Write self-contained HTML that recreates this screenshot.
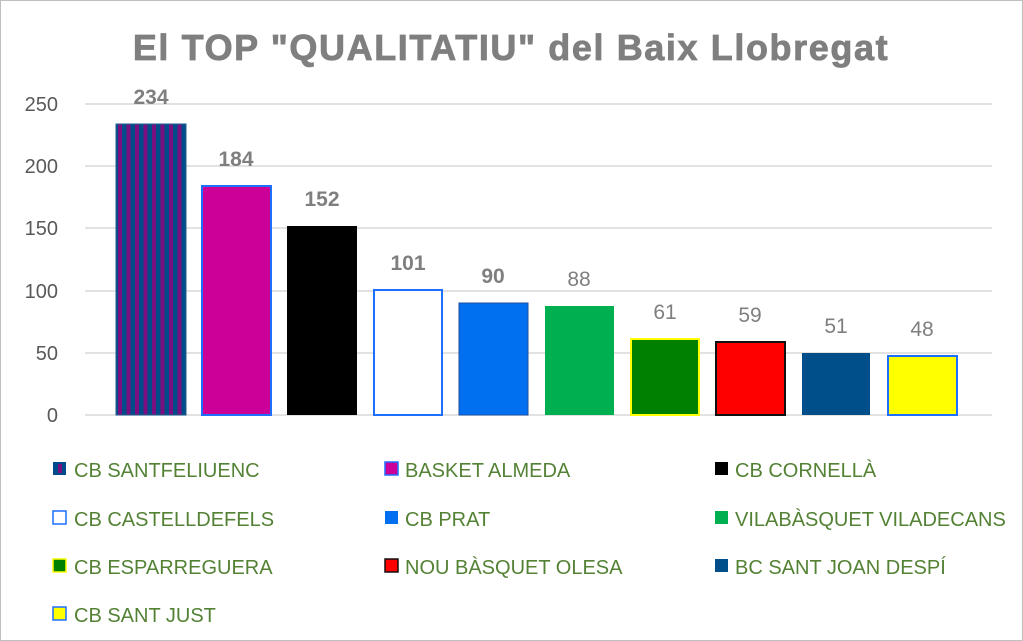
<!DOCTYPE html>
<html><head><meta charset="utf-8"><style>
body{margin:0;background:#fff}
svg{display:block}
text{font-family:"Liberation Sans",sans-serif}
</style></head><body>
<svg width="1023" height="641" viewBox="0 0 1023 641">
<defs>
<pattern id="st" width="8.5" height="10" patternUnits="userSpaceOnUse" x="116">
<rect width="8.5" height="10" fill="#004c8a"/><rect x="2" width="4" height="10" fill="#7a0f7f"/>
</pattern>
</defs>
<rect x="0.5" y="0.5" width="1022" height="640" fill="#fff" stroke="#bfbfbf"/>
<text x="511" y="60" text-anchor="middle" font-size="36" font-weight="bold" fill="#7f7f7f" stroke="#7f7f7f" stroke-width="0.8" letter-spacing="1.6">El TOP "QUALITATIU" del Baix Llobregat</text>
<g stroke="#d9d9d9" stroke-width="1.5">
<line x1="85" x2="992" y1="104" y2="104"/><line x1="85" x2="992" y1="166" y2="166"/>
<line x1="85" x2="992" y1="228" y2="228"/><line x1="85" x2="992" y1="291" y2="291"/>
<line x1="85" x2="992" y1="353" y2="353"/><line x1="85" x2="992" y1="415" y2="415"/>
</g>
<g font-size="20" fill="#595959" text-anchor="end">
<text x="58" y="111">250</text><text x="58" y="173">200</text><text x="58" y="235">150</text>
<text x="58" y="298">100</text><text x="58" y="360">50</text><text x="58" y="422">0</text>
</g>
<rect x="116" y="124" width="70" height="291" fill="url(#st)" stroke="#1f5d8f"/>
<rect x="202" y="186" width="69" height="229" fill="#cc0099" stroke="#1f6fff" stroke-width="2"/>
<rect x="287" y="226" width="70" height="189" fill="#000"/>
<rect x="374" y="290" width="68" height="125" fill="#fff" stroke="#1f6fff" stroke-width="2"/>
<rect x="459" y="303" width="69" height="112" fill="#0070f0" stroke="#1f4f9f"/>
<rect x="545" y="306" width="69" height="109" fill="#00b050"/>
<rect x="631" y="339" width="68" height="76" fill="#008000" stroke="#ffff00" stroke-width="2"/>
<rect x="716" y="342" width="69" height="73" fill="#ff0000" stroke="#111" stroke-width="2"/>
<rect x="802" y="353" width="68" height="62" fill="#004f8a"/>
<rect x="888" y="356" width="69" height="59" fill="#ffff00" stroke="#1f6fff" stroke-width="2"/>
<g font-size="21" fill="#7f7f7f" text-anchor="middle">
<text x="151" y="104" font-weight="bold">234</text>
<text x="236" y="166" font-weight="bold">184</text>
<text x="322" y="206" font-weight="bold">152</text>
<text x="408" y="270" font-weight="bold">101</text>
<text x="493" y="283" font-weight="bold">90</text>
<text x="579" y="286">88</text>
<text x="665" y="319">61</text>
<text x="750" y="322">59</text>
<text x="836" y="333">51</text>
<text x="922" y="336">48</text>
</g>
<g font-size="20" fill="#548235">
<rect x="53" y="462" width="13" height="13" fill="#004c8a"/><rect x="58" y="464" width="4" height="9" fill="#7a0f7f"/>
<text x="74" y="477">CB SANTFELIUENC</text>
<rect x="385" y="462" width="13" height="13" fill="#cc0099" stroke="#1f6fff" stroke-width="1.5"/>
<text x="405" y="477">BASKET ALMEDA</text>
<rect x="715" y="462" width="13" height="13" fill="#000"/>
<text x="735" y="477">CB CORNELLÀ</text>
<rect x="53" y="511" width="13" height="13" fill="#fff" stroke="#1f6fff" stroke-width="1.5"/>
<text x="74" y="526">CB CASTELLDEFELS</text>
<rect x="385" y="511" width="13" height="13" fill="#0070f0"/>
<text x="405" y="526">CB PRAT</text>
<rect x="715" y="511" width="13" height="13" fill="#00b050"/>
<text x="735" y="526">VILABÀSQUET VILADECANS</text>
<rect x="53" y="559" width="13" height="13" fill="#008000" stroke="#ffff00" stroke-width="1.5"/>
<text x="74" y="574">CB ESPARREGUERA</text>
<rect x="385" y="559" width="13" height="13" fill="#ff0000" stroke="#111" stroke-width="1.5"/>
<text x="405" y="574">NOU BÀSQUET OLESA</text>
<rect x="715" y="559" width="13" height="13" fill="#004f8a"/>
<text x="735" y="574">BC SANT JOAN DESPÍ</text>
<rect x="53" y="607" width="13" height="13" fill="#ffff00" stroke="#1f6fff" stroke-width="1.5"/>
<text x="74" y="622">CB SANT JUST</text>
</g>
</svg>
</body></html>
